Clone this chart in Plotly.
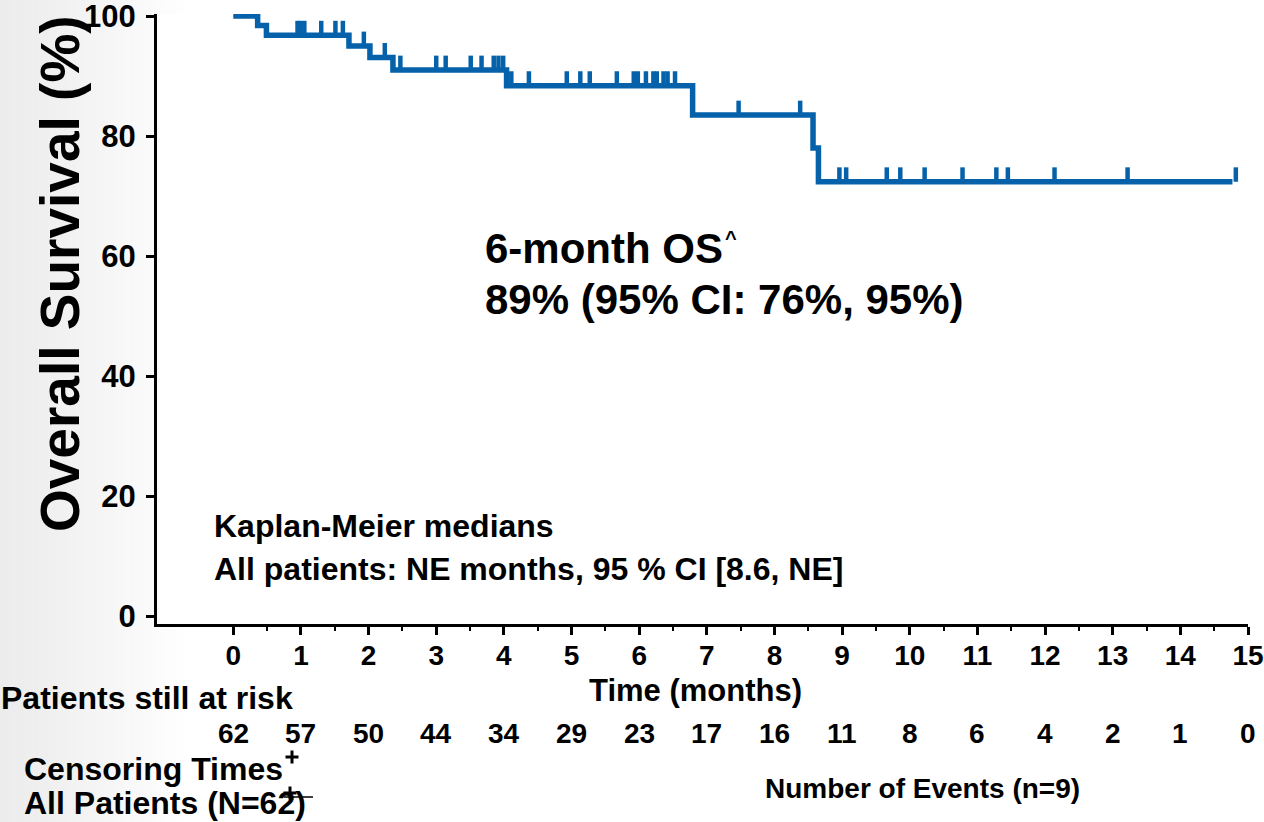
import plotly.graph_objects as go

# Kaplan-Meier step data (months, % surviving after each event)
event_times = [0.36, 0.49, 1.71, 2.02, 2.36, 4.04, 6.79, 8.57, 8.65]
survival_after = [98.4, 96.8, 95.0, 93.1, 91.0, 88.4, 83.5, 78.0, 72.4]
last_followup = 14.77

# Censoring times (months)
censor_times = [
    0.95, 0.99, 1.05, 1.30, 1.51, 1.62,
    1.93, 2.24,
    2.47, 3.00, 3.14, 3.51, 3.67, 3.85, 3.92, 3.99,
    4.11, 4.37, 4.93, 5.13, 5.27, 5.67, 5.92, 5.98, 6.10, 6.21, 6.26, 6.36, 6.42, 6.53,
    7.47, 8.38,
    8.96, 9.06, 9.66, 9.86, 10.22, 10.78, 11.28, 11.45, 12.14, 13.22, 14.82,
]

# Number at risk table
risk_months = list(range(0, 16))
at_risk = [62, 57, 50, 44, 34, 29, 23, 17, 16, 11, 8, 6, 4, 2, 1, 0]

x_ticks = list(range(0, 16))
y_ticks = [0, 20, 40, 60, 80, 100]

BLUE = "#0562AA"
FONT = "Liberation Sans"

# figure size and plot-area edges in pixels
W, H = 1264, 822
P_L, P_R, P_T, P_B = 157, 1248, 14, 624
X0_PX, PX_PER_MONTH = 233.3, 67.67
Y0_PX, PX_PER_PCT = 616.5, 6.005


def px_x(px):
    return (px - P_L) / (P_R - P_L)


def px_y(py):
    return (P_B - py) / (P_B - P_T)


def month_at(px):
    return (px - X0_PX) / PX_PER_MONTH


def pct_at(py):
    return (Y0_PX - py) / PX_PER_PCT


def level_at(t):
    lvl = 100.0
    for et, s in zip(event_times, survival_after):
        if et <= t:
            lvl = s
    return lvl


fig = go.Figure()

# survival curve
step_x = [0.0] + event_times + [last_followup]
step_y = [100.0] + survival_after + [survival_after[-1]]
fig.add_trace(go.Scatter(
    x=step_x, y=step_y, mode="lines",
    line=dict(color=BLUE, width=5.5, shape="hv"),
    hoverinfo="skip", showlegend=False,
))

# censoring tick marks
cx, cy = [], []
for t in censor_times:
    lv = level_at(t)
    cx += [t, t, None]
    cy += [lv, lv + 2.4, None]
fig.add_trace(go.Scatter(
    x=cx, y=cy, mode="lines",
    line=dict(color=BLUE, width=4.5),
    hoverinfo="skip", showlegend=False,
))

bold = dict(family=FONT, color="black", weight="bold")

annotations = []


def note(text, x, y, size, xref="paper", yref="paper", xanchor="left",
         yanchor="middle", angle=0):
    annotations.append(dict(
        text=text, x=x, y=y, xref=xref, yref=yref, xanchor=xanchor,
        yanchor=yanchor, showarrow=False, textangle=angle,
        font=dict(size=size, **bold),
    ))


# y-axis title
note("Overall Survival (%)", px_x(60), px_y(274), 55, xanchor="center", angle=-90)
# x-axis title
note("Time (months)", px_x(695), px_y(690), 31, xanchor="center")

# in-plot text
note("6-month OS", month_at(483), pct_at(248), 42, xref="x", yref="y")
note("^", month_at(731), pct_at(238), 20, xref="x", yref="y", xanchor="center")
note("89% (95% CI: 76%, 95%)", month_at(483), pct_at(299), 42, xref="x", yref="y")
note("Kaplan-Meier medians", month_at(212), pct_at(526), 32, xref="x", yref="y")
note("All patients: NE months, 95 % CI [8.6, NE]", month_at(212), pct_at(569), 32,
     xref="x", yref="y")

# number at risk
note("Patients still at risk", px_x(-1), px_y(698), 32)
for m, n in zip(risk_months, at_risk):
    note(str(n), m, px_y(733), 28, xref="x", xanchor="center")

# censoring legend text
note("Censoring Times", px_x(22), px_y(769), 32)
note("All Patients (N=62)", px_x(22), px_y(803), 32)
note("Number of Events (n=9)", px_x(922), px_y(788), 28, xanchor="center")

# soft grey backdrop along the left edge
shapes = []
n_bands = 40
for i in range(n_bands):
    x0 = i * 190 / n_bands
    x1 = (i + 1) * 190 / n_bands
    frac = i / (n_bands - 1)
    g = int(round(236 + (255 - 236) * frac ** 1.2))
    shapes.append(dict(
        type="rect", xref="paper", yref="paper",
        x0=px_x(x0), x1=px_x(x1 + 0.5), y0=px_y(H), y1=px_y(0),
        fillcolor=f"rgb({g},{g},{g})", line=dict(width=0), layer="below",
    ))
# white plotting panel
shapes.append(dict(
    type="rect", xref="paper", yref="paper", x0=0, x1=1, y0=0, y1=1,
    fillcolor="white", line=dict(width=0), layer="below",
))


# censoring legend symbols: "+" marks and the sample dash
def plus_mark(cx_px, cy_px, half=6.5):
    for (ax, ay, bx, by) in [(cx_px - half, cy_px, cx_px + half, cy_px),
                             (cx_px, cy_px - half, cx_px, cy_px + half)]:
        shapes.append(dict(
            type="line", xref="paper", yref="paper",
            x0=px_x(ax), x1=px_x(bx), y0=px_y(ay), y1=px_y(by),
            line=dict(color="black", width=3),
        ))


plus_mark(292, 757)
plus_mark(290, 793)
shapes.append(dict(
    type="line", xref="paper", yref="paper",
    x0=px_x(284), x1=px_x(313), y0=px_y(797), y1=px_y(797),
    line=dict(color="black", width=1.5),
))

fig.update_layout(
    width=W, height=H,
    margin=dict(l=P_L, r=W - P_R, t=P_T, b=H - P_B, pad=0, autoexpand=False),
    paper_bgcolor="white",
    plot_bgcolor="rgba(0,0,0,0)",
    showlegend=False,
    annotations=annotations,
    shapes=shapes,
    xaxis=dict(
        range=[month_at(P_L), 15],
        tickmode="array", tickvals=x_ticks, ticktext=[str(v) for v in x_ticks],
        ticks="outside", ticklen=8, tickwidth=3, tickcolor="black",
        showline=True, linecolor="black", linewidth=3,
        showgrid=False, zeroline=False, automargin=False,
        tickfont=dict(size=28, **bold), ticklabelstandoff=-4,
        ticklabeloverflow="allow",
        minor=dict(tickmode="array", tickvals=[v + 0.5 for v in x_ticks[:-1]],
                   ticks="outside", ticklen=4, tickwidth=2, tickcolor="black",
                   showgrid=False),
    ),
    yaxis=dict(
        range=[pct_at(P_B), pct_at(P_T)],
        tickmode="array", tickvals=y_ticks, ticktext=[str(v) for v in y_ticks],
        ticks="outside", ticklen=8, tickwidth=3, tickcolor="black",
        showline=True, linecolor="black", linewidth=3,
        showgrid=False, zeroline=False, automargin=False,
        tickfont=dict(size=31, **bold), ticklabelstandoff=4,
        ticklabeloverflow="allow",
    ),
)

fig.write_html("out.html")
